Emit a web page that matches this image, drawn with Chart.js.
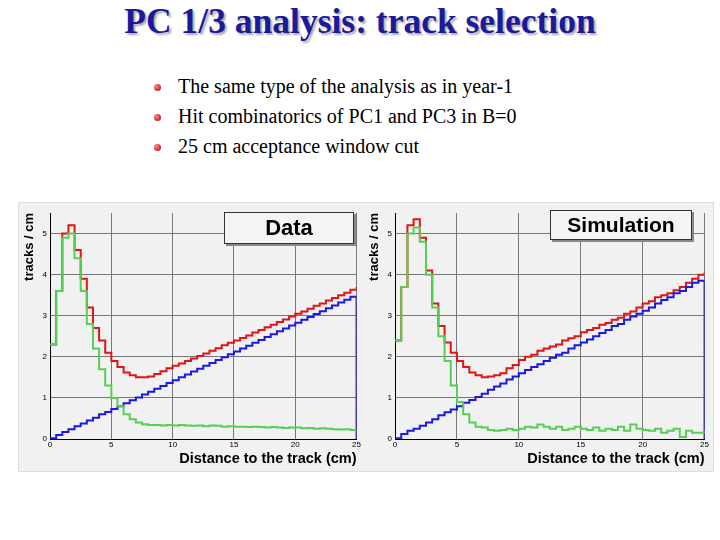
<!DOCTYPE html>
<html><head><meta charset="utf-8">
<script src="https://cdn.jsdelivr.net/npm/chart.js@4"></script>
<style>
body{margin:0;width:720px;height:540px;background:#fff;position:relative;font-family:"Liberation Serif",serif;overflow:hidden}
#title{position:absolute;top:0px;left:0;width:720px;text-align:center;font-weight:bold;font-size:35.5px;color:#1a1a9a;text-shadow:2px 2px 2px #aaa}
.b{position:absolute;left:178px;font-size:20px;color:#000}
.dot{position:absolute;left:154px;width:7px;height:7px;border-radius:50%;background:radial-gradient(circle at 35% 35%,#f88,#a00)}
#frame{position:absolute;left:18px;top:202px;width:694px;height:268px;background:#f1f1f1;border:1px solid #ddd}
.cv{position:absolute;top:203px;height:265px}
.lab{position:absolute;background:#f4f4f4;border:1px solid #333;box-shadow:2px 2px 0 #888;font-family:"Liberation Sans",Arial,sans-serif;font-weight:bold;text-align:center}
</style></head><body>
<div id="title">PC 1/3 analysis: track selection</div>
<div class="dot" style="top:84px"></div><div class="b" style="top:75px">The same type of the analysis as in year-1</div>
<div class="dot" style="top:114px"></div><div class="b" style="top:105px">Hit combinatorics of PC1 and PC3 in B=0</div>
<div class="dot" style="top:144px"></div><div class="b" style="top:135px">25 cm acceptance window cut</div>
<div id="frame"></div>
<div class="cv" style="left:20px;width:342px"><canvas id="c1" width="342" height="265"></canvas></div>
<div class="cv" style="left:365px;width:345px"><canvas id="c2" width="345" height="265"></canvas></div>
<div class="lab" style="left:224px;top:212px;width:128px;height:30px;font-size:22px;line-height:30px">Data</div>
<div class="lab" style="left:550px;top:210px;width:140px;height:28px;font-size:21px;line-height:28px">Simulation</div>
<script>
const bins=[0,0.5,1,1.5,2,2.5,3,3.5,4,4.5,5,5.5,6,6.5,7,7.5,8,8.5,9,9.5,10,10.5,11,11.5,12,12.5,13,13.5,14,14.5,15,15.5,16,16.5,17,17.5,18,18.5,19,19.5,20,20.5,21,21.5,22,22.5,23,23.5,24,24.5,25];
const xTicks=[0,5,10,15,20,25];
const dataRed=[2.3,3.6,5.0,5.2,4.6,3.9,3.2,2.7,2.4,2.1,1.9,1.75,1.62,1.55,1.5,1.5,1.52,1.58,1.65,1.72,1.78,1.84,1.9,1.96,2.02,2.08,2.15,2.21,2.28,2.34,2.4,2.46,2.52,2.59,2.65,2.72,2.78,2.85,2.91,2.98,3.05,3.1,3.17,3.24,3.3,3.37,3.43,3.5,3.56,3.63,3.7];
const dataGreen=[2.3,3.6,4.9,5.0,4.4,3.6,2.8,2.2,1.7,1.3,1.0,0.8,0.6,0.48,0.4,0.36,0.34,0.34,0.33,0.34,0.33,0.34,0.33,0.32,0.33,0.31,0.33,0.32,0.3,0.31,0.3,0.3,0.29,0.3,0.29,0.28,0.29,0.28,0.27,0.28,0.28,0.26,0.27,0.25,0.26,0.25,0.24,0.23,0.24,0.22,0.22];
const dataBlue=[0.02,0.1,0.17,0.24,0.31,0.38,0.45,0.52,0.6,0.66,0.73,0.8,0.87,0.94,1.01,1.08,1.15,1.22,1.29,1.36,1.43,1.5,1.57,1.64,1.71,1.78,1.85,1.92,1.99,2.06,2.13,2.2,2.27,2.34,2.41,2.48,2.55,2.62,2.69,2.76,2.83,2.9,2.97,3.04,3.11,3.18,3.25,3.32,3.39,3.46,0];
const simRed=[2.4,3.7,5.2,5.35,4.9,4.1,3.3,2.75,2.35,2.1,1.9,1.75,1.62,1.55,1.5,1.52,1.55,1.6,1.72,1.8,1.92,2.0,2.05,2.15,2.2,2.25,2.3,2.4,2.45,2.5,2.6,2.65,2.7,2.78,2.82,2.9,2.95,3.05,3.1,3.2,3.3,3.35,3.45,3.5,3.55,3.62,3.7,3.8,3.9,4.0,4.05];
const simGreen=[2.4,3.7,5.0,5.15,4.8,4.0,3.2,2.5,1.9,1.3,0.9,0.6,0.4,0.3,0.28,0.22,0.2,0.22,0.25,0.22,0.25,0.3,0.28,0.35,0.3,0.25,0.3,0.22,0.25,0.3,0.25,0.22,0.28,0.2,0.25,0.22,0.3,0.2,0.35,0.25,0.22,0.2,0.25,0.15,0.2,0.25,0.05,0.2,0.15,0.15,0.2];
const simBlue=[0.02,0.12,0.2,0.25,0.32,0.4,0.48,0.58,0.65,0.72,0.8,0.88,0.95,1.02,1.1,1.2,1.28,1.35,1.45,1.52,1.6,1.68,1.75,1.82,1.9,1.98,2.05,2.1,2.2,2.28,2.35,2.42,2.5,2.58,2.65,2.75,2.8,2.9,2.98,3.05,3.12,3.2,3.3,3.38,3.45,3.55,3.6,3.7,3.8,3.85,0];
const yTicks=[0,1,2,3,4,5];
function pts(a){return bins.map((x,i)=>({x:x,y:a[i]}));}
function mk(id,r,g,b){
 const ds=(d,c)=>({data:pts(d),borderColor:c,borderWidth:2,stepped:'before',pointRadius:0,fill:false});
 new Chart(document.getElementById(id),{type:'line',
 data:{datasets:[ds(g,'#55d055'),ds(b,'#1a1ae0'),ds(r,'#e01515')]},
 options:{responsive:false,animation:false,layout:{padding:{top:10,right:4}},
  plugins:{legend:{display:false},tooltip:{enabled:false}},
  scales:{
   x:{type:'linear',min:0,max:25,afterBuildTicks:a=>{a.ticks=xTicks.map(v=>({value:v}));},
      grid:{color:'#777',borderDash:[2,2],drawTicks:false},border:{color:'#000'},
      ticks:{font:{size:8},color:'#000',padding:1},
      title:{display:true,text:'Distance to the track (cm)',align:'end',font:{size:14.5,weight:'bold',family:'Liberation Sans'},color:'#000',padding:0}},
   y:{min:0,max:5.5,afterBuildTicks:a=>{a.ticks=yTicks.map(v=>({value:v}));},
      grid:{color:'#777',borderDash:[2,2],drawTicks:false},border:{color:'#000'},
      ticks:{font:{size:8},color:'#000',padding:3},
      title:{display:true,text:'tracks / cm',align:'end',font:{size:13,weight:'bold',family:'Liberation Sans'},color:'#000',padding:2}}
  }}});
}
mk('c1',dataRed,dataGreen,dataBlue);
mk('c2',simRed,simGreen,simBlue);
</script></body></html>
